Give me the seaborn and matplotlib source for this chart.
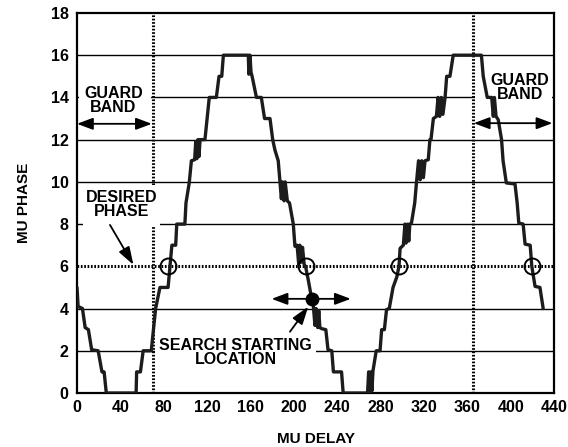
import pandas as pd
import matplotlib
matplotlib.use('Agg')
import matplotlib.pyplot as plt
from matplotlib.patches import Rectangle
import seaborn as sns

# MU phase, as a function of MU delay
delay = [0, 1, 5, 7.5, 10.5, 13.5, 19.5, 23, 25, 27, 54.5,
         55, 58.5, 61, 68.5, 70.5, 72.5, 76.5, 84, 87.5, 91, 92, 99.5, 100.5, 103.5, 105.5, 108.5,
         109.5, 110.5, 111.5, 112.5, 113.5, 118, 122, 128.5, 131, 133.5, 135, 158,
         158.5, 159.5, 160.5, 161.5, 165.5, 170, 173, 178, 180.5, 182.6, 185.6, 187,
         188.5, 189.5, 191, 192, 194, 196, 199.5, 201, 203, 204.5, 205.5, 207, 208, 209.5,
         211, 213.5, 216.5, 218, 219.5, 220.5, 222, 223, 224, 225.5, 229.5, 231.5, 235, 236.5, 244, 245.5, 268,
         269, 270, 271, 272, 273, 276, 279.5, 281, 283.5, 285.5, 288, 291.5, 295, 297, 298, 301,
         302.5, 303.5, 305, 306, 307, 308.5, 311.5, 313,
         315, 316.5, 318, 319.5, 321, 324, 325.5, 326.5, 328.7,
         331.5, 333, 334.5, 336, 337.5, 339.5, 341, 344, 347, 373,
         374.7, 378.4, 382.5, 384, 385, 386.5, 388.5, 391.6, 393, 396, 404, 406, 407.5, 411.5, 413.3,
         418, 419.5, 422.5, 427, 430]
phase = [5.0, 4.1, 4.0, 3.1, 3.0, 2.05, 2.0, 1.0, 1.0, 0, 0,
         1.0, 1.0, 2.0, 2.0, 3.0, 4.0, 5.0, 5.0, 7.0, 7.0, 8.0, 8.0, 9.0, 9.95, 11.0, 11.05,
         11.9, 11.1, 12.0, 11.2, 12.0, 12.0, 14.0, 14.0, 15.0, 15.0, 16.0, 16.0,
         15.1, 16.0, 15.2, 15.0, 14.0, 14.0, 13.0, 13.0, 12.0, 11.5, 11.0, 10.1,
         9.2, 10.0, 9.1, 10.0, 9.1, 9.0, 8.0, 6.95, 7.0, 6.1, 7.0, 6.2, 6.9, 6.1,
         5.95, 5.3, 4.45, 4.1, 3.2, 4.0, 3.1, 3.9, 3.1, 3.05, 3.0, 2.05, 2.0, 1.0, 1.0, 0, 0,
         1.0, 0, 1.0, 0.1, 1.05, 2.0, 2.0, 3.0, 3.0, 3.95, 4.0, 5.0, 5.5, 6.0, 6.85, 7.0,
         8.0, 7.1, 8.0, 7.2, 8.0, 8.05, 9.0, 9.9,
         11.0, 10.1, 11.0, 10.2, 11.0, 11.05, 12.0, 12.0, 13.0,
         13.1, 14.0, 13.1, 14.0, 13.2, 14.0, 15.0, 15.0, 16.0, 16.0,
         15.0, 14.0, 14.0, 13.1, 14.0, 13.1, 12.95, 12.0, 11.0, 9.95, 9.9, 9.0, 8.05, 8.0, 7.05,
         7.0, 6.0, 5.05, 5.0, 4.0]

desired_phase = 6
guard_edges = [70, 365]
crossings = [83.6, 211, 297, 419.4]
start_delay = 216.5
start_phase = 4.46
grid_levels = [2, 4, 8, 10, 12, 14, 16]

df = pd.DataFrame({'delay': delay, 'phase': phase})

sns.set_theme(style='white')
plt.rcParams['font.family'] = ['Liberation Sans', 'DejaVu Sans']
plt.rcParams['font.weight'] = 'bold'
plt.rcParams['text.color'] = 'black'
plt.rcParams['axes.labelcolor'] = 'black'

fig = plt.figure(figsize=(5.68, 4.47), dpi=100)
ax = fig.add_axes([0.1356, 0.1208, 0.8398, 0.8502])

# grid lines, partly hidden by white boxes behind the labels
ax.hlines(grid_levels, 0, 440, colors='black', linewidth=1, zorder=1)
ax.add_patch(Rectangle((2, 13.2), 66, 1.6, facecolor='white', edgecolor='none', zorder=1.2))
ax.add_patch(Rectangle((367, 13.6), 71, 1.6, facecolor='white', edgecolor='none', zorder=1.2))
ax.vlines(guard_edges, 0, 18, colors='black', linewidth=2.2,
          linestyles=[(0, (0.55, 0.55))], zorder=1.4)
ax.add_patch(Rectangle((5.5, 7.9), 71, 1.95, facecolor='white', edgecolor='none', zorder=1.6))
ax.add_patch(Rectangle((72, 1.15), 148, 1.5, facecolor='white', edgecolor='none', zorder=1.6))
ax.axhline(desired_phase, color='black', linewidth=2.2,
           linestyle=(0, (0.55, 0.55)), zorder=2)

sns.lineplot(data=df, x='delay', y='phase', sort=False, estimator=None,
             color='#1c1c1c', linewidth=2.4, ax=ax, zorder=3)

ax.plot(crossings, [desired_phase] * len(crossings), 'o', markersize=11.5,
        markerfacecolor='none', markeredgecolor='black', markeredgewidth=1.4, zorder=4)

# search starting point with arrows either way
ax.annotate('', xy=(179.5, start_phase), xytext=(252.5, start_phase),
            arrowprops=dict(arrowstyle='<|-|>,head_length=0.8,head_width=0.3',
                            color='black', lw=1.3, shrinkA=0, shrinkB=0,
                            mutation_scale=12), zorder=4)
ax.plot([start_delay], [start_phase], 'o', markersize=9, color='black', zorder=5)

# guard band arrows
ax.annotate('', xy=(0, 12.75), xytext=(69, 12.75),
            arrowprops=dict(arrowstyle='<|-|>,head_length=0.8,head_width=0.3',
                            color='black', lw=1.3, shrinkA=0, shrinkB=0,
                            mutation_scale=12), zorder=4)
ax.annotate('', xy=(366, 12.78), xytext=(438.5, 12.78),
            arrowprops=dict(arrowstyle='<|-|>,head_length=0.8,head_width=0.3',
                            color='black', lw=1.3, shrinkA=0, shrinkB=0,
                            mutation_scale=12), zorder=4)

txt = dict(fontsize=11.5, fontweight='bold', ha='center', va='center',
           linespacing=0.92, zorder=6, color='black')
ax.text(33.6, 13.85, 'GUARD\nBAND', **txt)
ax.text(408.6, 14.48, 'GUARD\nBAND', **txt)
ax.text(41.5, 8.95, 'DESIRED\nPHASE', **txt)
ax.text(146.5, 1.92, 'SEARCH STARTING\nLOCATION', **txt)

ax.annotate('', xy=(52, 6.07), xytext=(30.4, 7.96),
            arrowprops=dict(arrowstyle='-|>,head_length=0.9,head_width=0.3',
                            color='black', lw=1.3, shrinkA=0, shrinkB=0,
                            mutation_scale=12), zorder=5)
ax.annotate('', xy=(213.3, 4.09), xytext=(196.4, 2.9),
            arrowprops=dict(arrowstyle='-|>,head_length=0.9,head_width=0.3',
                            color='black', lw=1.3, shrinkA=0, shrinkB=0,
                            mutation_scale=12), zorder=5)

ax.set_xlim(0, 440)
ax.set_ylim(0, 18)
ax.set_xticks(range(0, 441, 40))
ax.set_yticks(range(0, 19, 2))
ax.tick_params(axis='both', direction='in', length=3, width=1, color='black',
               labelsize=11.5, labelcolor='black')
ax.tick_params(axis='x', pad=5)
ax.tick_params(axis='y', pad=6)
for lab in ax.get_xticklabels() + ax.get_yticklabels():
    lab.set_fontweight('bold')
for sp in ax.spines.values():
    sp.set_color('black')
    sp.set_linewidth(1.6)
ax.set_xlabel('MU DELAY', fontsize=11, fontweight='bold', labelpad=12)
ax.set_ylabel('MU PHASE', fontsize=11, fontweight='bold', labelpad=14)

fig.savefig('out.png', dpi=100)
